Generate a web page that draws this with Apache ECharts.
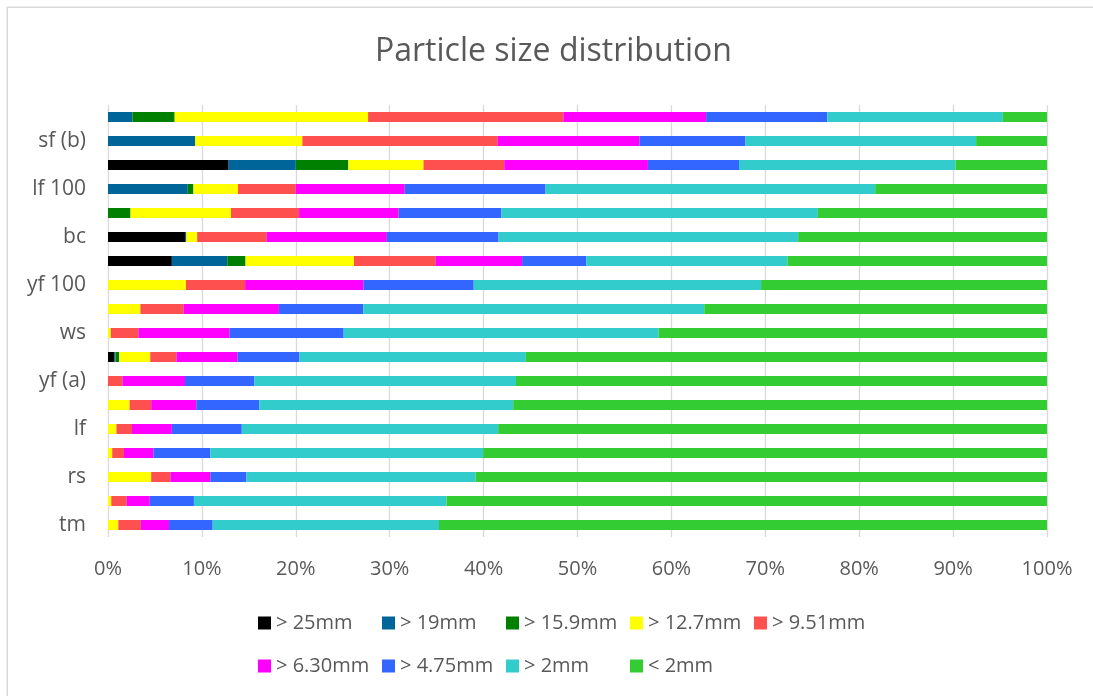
<!DOCTYPE html>
<html>
<head>
<meta charset="utf-8">
<script src="https://cdn.jsdelivr.net/npm/echarts@6/dist/echarts.min.js"></script>
<style>
  html, body { margin: 0; padding: 0; background: #ffffff; }
  #chart { width: 1093px; height: 696px; }
</style>
</head>
<body>
<div id="chart"></div>
<script>
// Samples, listed bottom to top; only every other one carries a label on the axis
const categories = ['tm', '', 'rs', '', 'lf', '', 'yf (a)', '', 'ws', '', 'yf 100', '', 'bc', '', 'lf 100', '', 'sf (b)', ''];

// Size fractions (share of each sample, %)
const seriesNames = ['> 25mm', '> 19mm', '> 15.9mm', '> 12.7mm', '> 9.51mm', '> 6.30mm', '> 4.75mm', '> 2mm', '< 2mm'];
const seriesColors = ['#000000', '#006699', '#008000', '#FFFF00', '#FF5050', '#FF00FF', '#3366FF', '#33CCCC', '#33CC33'];

const gt25  = [0, 0, 0, 0, 0, 0, 0, 0.7, 0, 0, 0, 6.8, 8.2, 0, 0, 12.85, 0, 0];
const gt19  = [0, 0, 0, 0, 0, 0, 0, 0.1, 0, 0, 0, 5.9, 0.15, 0, 8.5, 7.15, 9.3, 2.6];
const gt159 = [0, 0, 0, 0, 0, 0, 0, 0.4, 0, 0, 0, 1.95, 0, 2.4, 0.6, 5.6, 0, 4.5];
const gt127 = [1.1, 0.35, 4.6, 0.45, 0.9, 2.3, 0, 3.3, 0.3, 3.45, 8.3, 11.55, 1.15, 10.7, 4.75, 8.0, 11.4, 20.6];
const gt951 = [2.4, 1.65, 2.05, 1.25, 1.65, 2.3, 1.55, 2.8, 2.95, 4.6, 6.3, 8.7, 7.4, 7.25, 6.15, 8.6, 20.8, 20.8];
const gt630 = [3.0, 2.45, 4.25, 3.15, 4.25, 4.8, 6.65, 6.5, 9.7, 10.15, 12.6, 9.2, 12.8, 10.6, 11.6, 15.3, 15.1, 15.2];
const gt475 = [4.65, 4.7, 3.85, 6.05, 7.45, 6.7, 7.4, 6.6, 12.15, 9.0, 11.75, 6.85, 11.9, 10.95, 15.0, 9.7, 11.3, 12.9];
const gt2   = [24.1, 26.9, 24.4, 29.05, 27.3, 27.05, 27.85, 24.1, 33.55, 36.3, 30.6, 21.4, 31.9, 33.7, 35.1, 23.05, 24.55, 18.7];
const lt2   = [64.75, 63.95, 60.85, 60.05, 58.45, 56.85, 56.55, 55.5, 41.35, 36.5, 30.45, 27.65, 26.5, 24.4, 18.3, 9.75, 7.55, 4.7];

const seriesValues = [gt25, gt19, gt159, gt127, gt951, gt630, gt475, gt2, lt2];

const FONT = '"Open Sans", "Noto Sans", sans-serif';
const TEXT_GREY = '#595959';

const chart = echarts.init(document.getElementById('chart'), null, { renderer: 'canvas' });

const legendBase = {
  left: 253,
  orient: 'horizontal',
  icon: 'rect',
  itemWidth: 13,
  itemHeight: 13,
  itemGap: 10,
  selectedMode: false,
  textStyle: { fontFamily: FONT, fontSize: 20, color: TEXT_GREY, width: 96, lineHeight: 24 }
};

chart.setOption({
  backgroundColor: '#ffffff',
  animation: false,
  title: {
    text: 'Particle size distribution',
    left: 370,
    top: 31,
    textStyle: { fontFamily: FONT, fontSize: 32, fontWeight: 'normal', color: TEXT_GREY }
  },
  legend: [
    Object.assign({}, legendBase, { top: 606, data: seriesNames.slice(0, 5) }),
    Object.assign({}, legendBase, { top: 649, data: seriesNames.slice(5) })
  ],
  grid: { left: 108, right: 46, top: 105, height: 432, containLabel: false },
  xAxis: {
    type: 'value',
    min: 0,
    max: 100,
    interval: 10,
    axisLine: { show: false },
    axisTick: { show: false },
    splitLine: { show: true, lineStyle: { color: '#d9d9d9', width: 1.3 } },
    axisLabel: {
      formatter: '{value}%',
      margin: 22,
      fontFamily: FONT,
      fontSize: 20,
      color: TEXT_GREY
    }
  },
  yAxis: {
    type: 'category',
    data: categories,
    axisLine: { show: false },
    axisTick: { show: false },
    splitLine: { show: false },
    axisLabel: {
      interval: 1,
      margin: 22,
      fontFamily: FONT,
      fontSize: 21,
      color: TEXT_GREY
    }
  },
  series: seriesNames.map((name, i) => ({
    name: name,
    type: 'bar',
    stack: 'total',
    barWidth: 10,
    itemStyle: { color: seriesColors[i] },
    data: seriesValues[i]
  })),
  graphic: [{
    type: 'rect',
    silent: true,
    shape: { x: 7.25, y: 7.25, width: 1100, height: 700 },
    style: { fill: 'none', stroke: '#d9d9d9', lineWidth: 1.5 }
  }]
});
</script>
</body>
</html>
